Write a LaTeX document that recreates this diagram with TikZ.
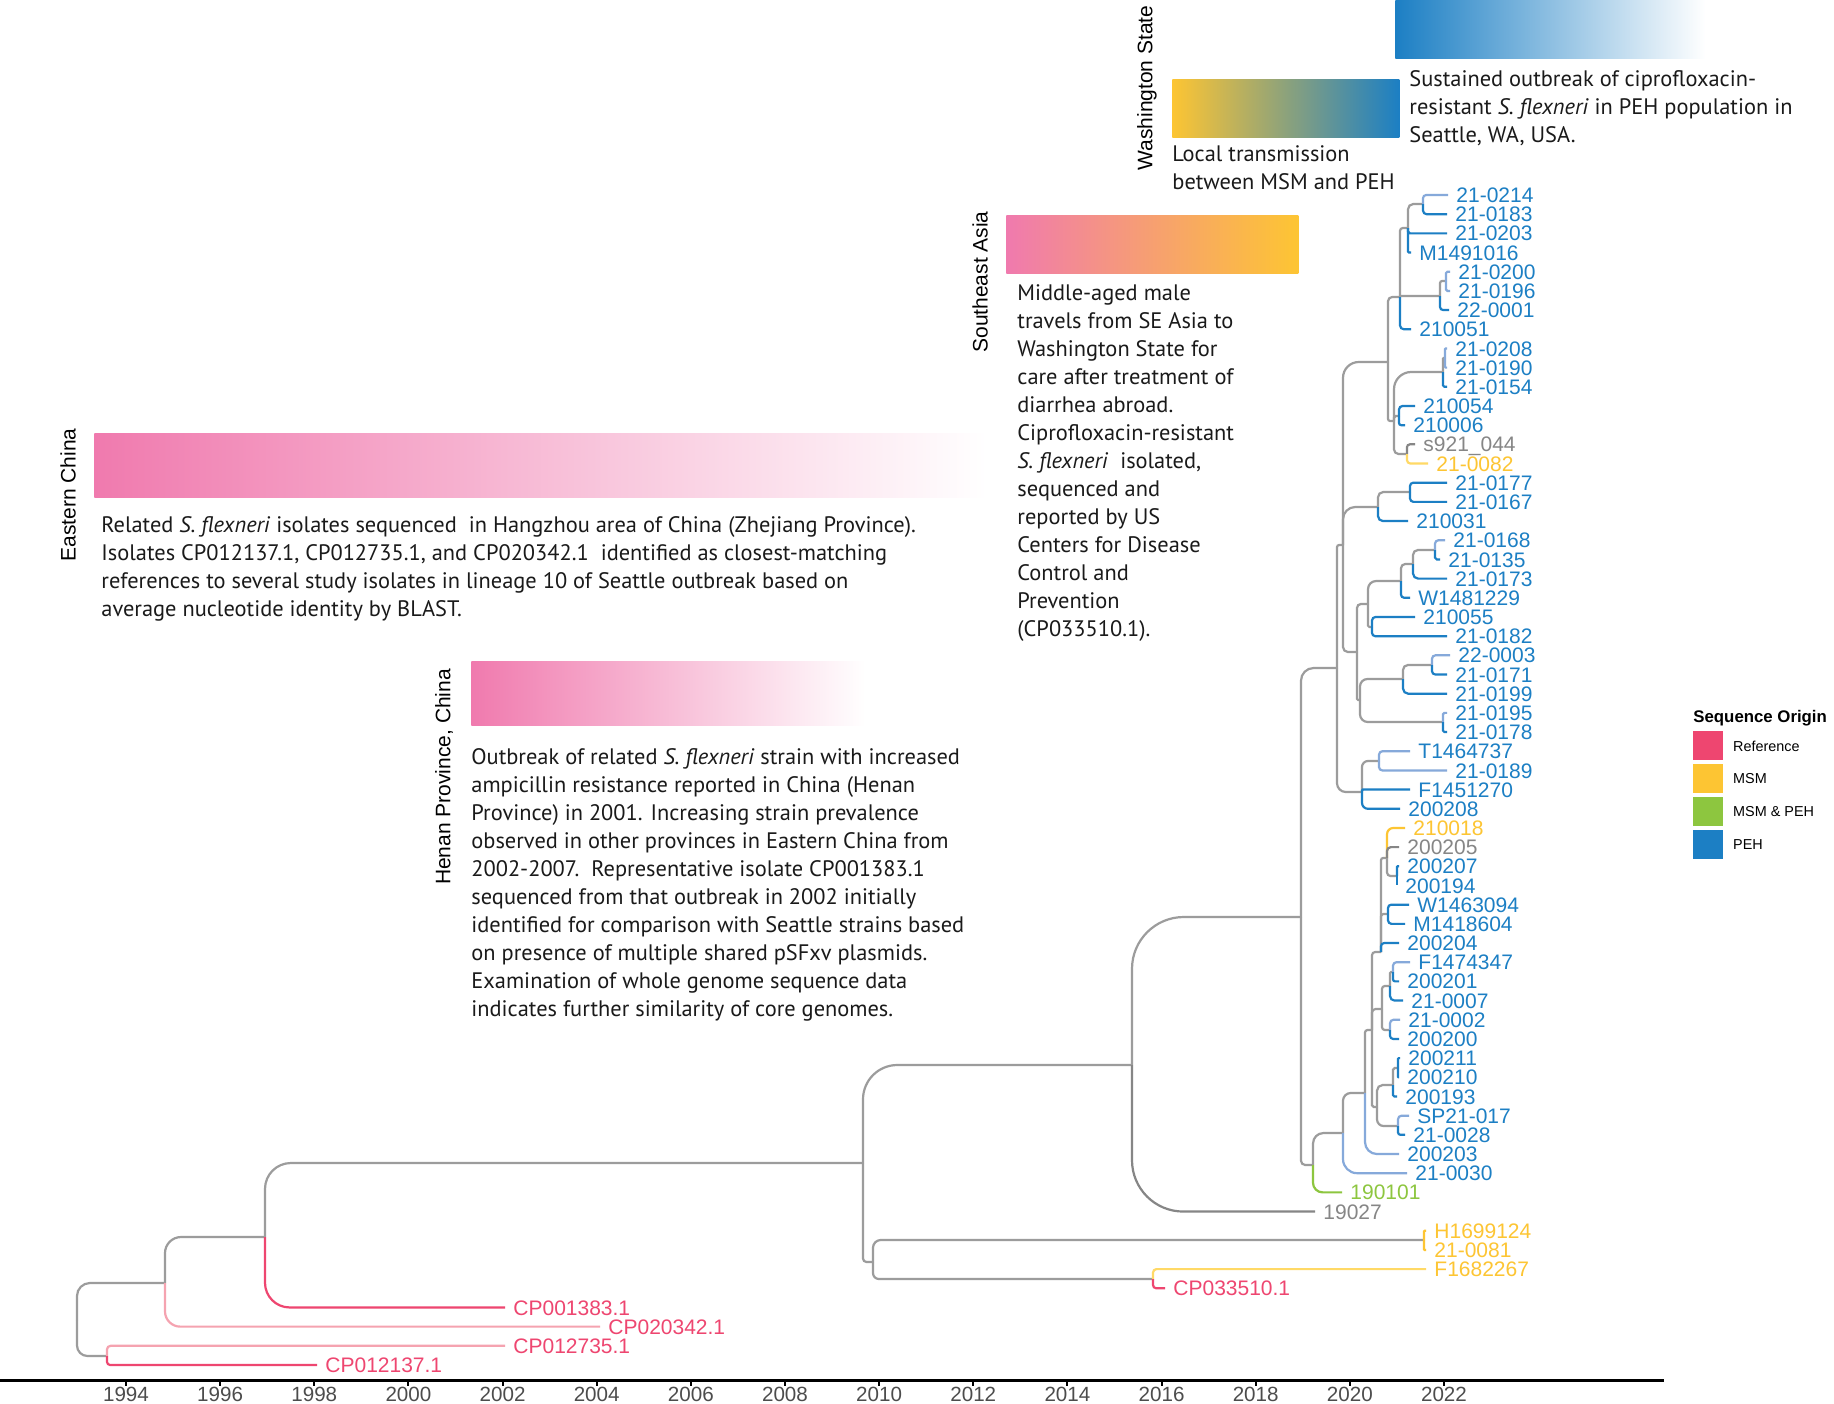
\documentclass[tikz,border=0pt]{standalone}
\usepackage{fontspec}
\setmainfont{Liberation Sans}
\newfontfamily\notefont{PT Sans}
\usetikzlibrary{calc,positioning}

\definecolor{refred}{HTML}{EE4670}
\definecolor{refpink}{HTML}{F5A3B0}
\definecolor{msmyellow}{HTML}{FDC533}
\definecolor{msmlight}{HTML}{FFD966}
\definecolor{mixgreen}{HTML}{8DC63F}
\definecolor{pehblue}{HTML}{1C7FC4}
\definecolor{pehlight}{HTML}{86A9DA}
\definecolor{treegray}{HTML}{9C9C9C}
\definecolor{tipgray}{HTML}{868686}
\definecolor{barpink}{HTML}{F07AAE}
\definecolor{notetext}{HTML}{1A1A1A}

% one branch: down/up from the parent, then across to the child
\newcommand{\br}[3]{%
  \draw[branch,draw=#3] let \p1=(#1),\p2=(#2),
    \n1={0.35*min(abs(\x2-\x1),abs(\y2-\y1))} in
    [rounded corners=\n1*1pt] (\p1) |- (\p2);}

\begin{document}
\begin{tikzpicture}[x=0.5pt,y=-0.5pt,
  branch/.style={line width=1.1pt},
  tip/.style={anchor=west,inner sep=0pt,xshift=4pt,text height=7.6pt,text depth=0pt,
    font=\fontsize{10.5}{12}\selectfont},
  note/.style={anchor=north west,align=left,inner sep=0pt,text=notetext,
    font=\notefont\fontsize{11.2}{14}\selectfont},
  place/.style={rotate=90,inner sep=0pt,font=\fontsize{10.5}{12}\selectfont},
  bar/.style={anchor=north west,inner sep=0pt,draw=none},
  yearlab/.style={anchor=north,inner sep=0pt,text=black!70,font=\fontsize{10.3}{12}\selectfont},
  legbox/.style={anchor=north west,inner sep=0pt,minimum width=15pt,minimum height=14.5pt},
  leglab/.style={inner sep=0pt,font=\fontsize{7.2}{9}\selectfont}
]
  \useasboundingbox (0,0) rectangle (1834,1403);
  \fill[white] (0,0) rectangle (1834,1403);

  % coloured bars and notes
  \node[bar,minimum width=446pt,minimum height=32pt,left color=barpink,right color=white] (eastbar) at (94,433) {};
  \node[bar,minimum width=197pt,minimum height=32pt,left color=barpink,right color=white] (henanbar) at (471,661) {};
  \node[bar,minimum width=146pt,minimum height=29pt,left color=barpink,right color=msmyellow] (seabar) at (1006,215) {};
  \node[bar,minimum width=113.5pt,minimum height=29pt,left color=msmyellow,right color=pehblue] (washbar) at (1172,79) {};
  \node[bar,minimum width=155pt,minimum height=29pt,left color=pehblue,right color=white] (seabar2) at (1395,0) {};

  \node[place] (eastlab) at (68,495) {Eastern China};
  \node[place] (henanlab) at (444,777) {Henan Province, China};
  \node[place] (sealab) at (980,282) {Southeast Asia};
  \node[place] (washlab) at (1147,88) {Washington State};

  \node[note] (eastnote) at (101,516) {Related \textit{S. flexneri} isolates sequenced\ \ in Hangzhou area of China (Zhejiang Province).\\
    Isolates CP012137.1, CP012735.1, and CP020342.1\ \ identified as closest-matching\\
    references to several study isolates in lineage 10 of Seattle outbreak based on\\
    average nucleotide identity by BLAST.};
  \node[note] (henannote) at (471,748) {Outbreak of related \textit{S. flexneri} strain with increased\\
    ampicillin resistance reported in China (Henan\\
    Province) in 2001. Increasing strain prevalence\\
    observed in other provinces in Eastern China from\\
    2002-2007.\ \ Representative isolate CP001383.1\\
    sequenced from that outbreak in 2002 initially\\
    identified for comparison with Seattle strains based\\
    on presence of multiple shared pSFxv plasmids.\\
    Examination of whole genome sequence data\\
    indicates further similarity of core genomes.};
  \node[note] (seanote) at (1017,284) {Middle-aged male\\ travels from SE Asia to\\ Washington State for\\
    care after treatment of\\ diarrhea abroad.\\ Ciprofloxacin-resistant\\ \textit{S. flexneri}\ \ isolated,\\
    sequenced and\\ reported by US\\ Centers for Disease\\ Control and\\ Prevention\\ (CP033510.1).};
  \node[note] (washnote) at (1172,145) {Local transmission\\ between MSM and PEH};
  \node[note] (seattlenote) at (1409,70) {Sustained outbreak of ciprofloxacin-\\
    resistant \textit{S. flexneri} in PEH population in\\ Seattle, WA, USA.};

  % tips
  \foreach \i/\lab/\xe/\col in {1/21-0214/1448/pehblue,2/21-0183/1447/pehblue,3/21-0203/1447/pehblue,
      4/M1491016/1411/pehblue,5/21-0200/1450/pehblue,6/21-0196/1450/pehblue,7/22-0001/1449/pehblue,
      8/210051/1411/pehblue,9/21-0208/1447/pehblue,10/21-0190/1447/pehblue,11/21-0154/1447/pehblue,
      12/210054/1415/pehblue,13/210006/1405/pehblue,14/s921\_044/1415/tipgray,15/21-0082/1428/msmyellow,
      16/21-0177/1447/pehblue,17/21-0167/1447/pehblue,18/210031/1408/pehblue,19/21-0168/1445/pehblue,
      20/21-0135/1440/pehblue,21/21-0173/1447/pehblue,22/W1481229/1410/pehblue,23/210055/1415/pehblue,
      24/21-0182/1447/pehblue,25/22-0003/1450/pehblue,26/21-0171/1447/pehblue,27/21-0199/1447/pehblue,
      28/21-0195/1447/pehblue,29/21-0178/1447/pehblue,30/T1464737/1410/pehblue,31/21-0189/1447/pehblue,
      32/F1451270/1410/pehblue,33/200208/1400/pehblue,34/210018/1405/msmyellow,35/200205/1399/tipgray,
      36/200207/1399/pehblue,37/200194/1397/pehblue,38/W1463094/1409/pehblue,39/M1418604/1405/pehblue,
      40/200204/1399/pehblue,41/F1474347/1410/pehblue,42/200201/1399/pehblue,43/21-0007/1403/pehblue,
      44/21-0002/1400/pehblue,45/200200/1399/pehblue,46/200211/1400/pehblue,47/200210/1399/pehblue,
      48/200193/1397/pehblue,49/SP21-017/1409/pehblue,50/21-0028/1405/pehblue,51/200203/1399/pehblue,
      52/21-0030/1407/pehblue,53/190101/1342/mixgreen,54/19027/1315/tipgray,55/H1699124/1426/msmyellow,
      56/21-0081/1426/msmyellow,57/F1682267/1426/msmyellow,58/CP033510.1/1165/refred,
      59/CP001383.1/505/refred,60/CP020342.1/600/refred,61/CP012735.1/505/refred,62/CP012137.1/317/refred}{
    \coordinate (t\i) at (\xe,{195+19.18*(\i-1)});
    \node[tip,text=\col] (l\i) at (t\i) {\lab};
  }

  % internal nodes
  \foreach \nd/\xx/\yy in {A/1423/204,B/1408/228,C1/1446/281,C/1440/296,D/1400/297,F1/1445/358,
      F/1443/372,G/1399/416,H/1407/454,I/1394/421,J/1388/362,K/1410/492,L/1378/507,R1/1435/550,
      R2/1413/564,R3/1401/581,R4/1372/627,R/1368/604,S1/1432/665,S2/1403/679,S3/1443/722,S/1360/700,
      N/1357/652,P/1343/545,Q1/1379/761,Q/1362/792,O/1337/668,U1a/1397/876,U1/1387/858,U2/1388/914,
      U/1381/952,V1/1393/972,V2/1390/986,V3/1390/1030,V/1382/1009,W1/1398/1068,W2/1393/1085,
      X1/1398/1126,X2/1377/1107,Y/1372/1030,Z/1365/1093,AA/1343/1133,BB/1313/1165,CC/1301/917,
      DD/1132/1065,GG/1424/1240,HH/1153/1279,FF/873/1262,EE/863/1163,II/265/1237,JJ/165/1283,
      LL/107/1356,KK/77/1320}
    \coordinate (n\nd) at (\xx,\yy);

  % branches
  \foreach \pa/\ch/\co in {nKK/nJJ/treegray,nKK/nLL/treegray,nJJ/nII/treegray,nJJ/t60/refpink,
      nII/nEE/treegray,nII/t59/refred,nLL/t61/refpink,nLL/t62/refred,nEE/nDD/treegray,nEE/nFF/treegray,
      nFF/nGG/treegray,nFF/nHH/treegray,nGG/t55/msmyellow,nGG/t56/msmyellow,nHH/t57/msmlight,
      nHH/t58/refred,nDD/nCC/treegray,nDD/t54/tipgray,nCC/nO/treegray,nCC/nBB/treegray,
      nBB/nAA/treegray,nBB/t53/mixgreen,nAA/nZ/treegray,nAA/t52/pehlight,nZ/nY/treegray,
      nZ/t51/pehlight,nY/nU/treegray,nY/nV/treegray,nY/nX2/treegray,nX2/nW2/treegray,
      nX2/nX1/treegray,nX1/t49/pehlight,nX1/t50/pehblue,nW2/nW1/treegray,nW2/t48/pehblue,
      nW1/t46/pehblue,nW1/t47/pehblue,nV/nV2/treegray,nV/nV3/treegray,nV2/nV1/treegray,
      nV2/t43/pehblue,nV1/t41/pehlight,nV1/t42/pehblue,nV3/t44/pehlight,nV3/t45/pehblue,
      nU/nU1/treegray,nU/nU2/treegray,nU/t40/pehblue,nU1/t34/msmyellow,nU1/t35/tipgray,
      nU1/nU1a/treegray,nU1a/t36/pehblue,nU1a/t37/pehblue,nU2/t38/pehblue,nU2/t39/pehblue,
      nO/nP/treegray,nO/nQ/treegray,nQ/nQ1/treegray,nQ/t32/pehblue,nQ/t33/pehblue,
      nQ1/t30/pehlight,nQ1/t31/pehlight,nP/nJ/treegray,nP/nL/treegray,nP/nN/treegray,
      nN/nR/treegray,nN/nS/treegray,nS/nS2/treegray,nS/nS3/treegray,nS2/nS1/treegray,
      nS2/t27/pehblue,nS1/t25/pehlight,nS1/t26/pehblue,nS3/t28/pehlight,nS3/t29/pehblue,
      nR/nR3/treegray,nR/nR4/treegray,nR4/t23/pehblue,nR4/t24/pehblue,nR3/nR2/treegray,
      nR3/t22/pehblue,nR2/nR1/treegray,nR2/t21/pehblue,nR1/t19/pehlight,nR1/t20/pehblue,
      nL/nK/treegray,nL/t18/pehblue,nK/t16/pehblue,nK/t17/pehblue,nJ/nD/treegray,nJ/nI/treegray,
      nI/nF/treegray,nI/nG/treegray,nI/nH/treegray,nH/t14/tipgray,nH/t15/msmlight,
      nG/t12/pehblue,nG/t13/pehblue,nF/nF1/treegray,nF/t11/pehblue,nF1/t9/pehlight,
      nF1/t10/pehlight,nD/nB/treegray,nD/nC/treegray,nD/t8/pehblue,nC/nC1/treegray,
      nC/t7/pehblue,nC1/t5/pehlight,nC1/t6/pehlight,nB/nA/treegray,nB/t3/pehblue,
      nB/t4/pehblue,nA/t1/pehlight,nA/t2/pehblue}
    {\br{\pa}{\ch}{\co}}

  % legend
  \node[anchor=west,inner sep=0pt,font=\bfseries\fontsize{8.4}{10}\selectfont] (legtitle) at (1693,718) {Sequence Origin};
  \foreach \k/\co/\lab/\yy in {1/refred/Reference/731,2/msmyellow/MSM/764,3/mixgreen/MSM \& PEH/797,4/pehblue/PEH/830}{
    \node[legbox,fill=\co] (box\k) at (1693,\yy) {};
    \node[leglab,right=4.5pt of box\k] (leg\k) {\lab};
  }

  % time axis
  \coordinate (axL) at (0,1380);
  \coordinate (axR) at (1664,1380);
  \draw[line width=1.5pt] (axL) -- (axR);
  \foreach \yr in {1994,1996,...,2022}{
    \coordinate (tk\yr) at ({126+(\yr-1994)*47.07},1380);
    \draw[line width=1pt] (tk\yr) -- ++(0,6);
    \node[yearlab] (yr\yr) at ({126+(\yr-1994)*47.07},1387) {\yr};
  }
\end{tikzpicture}
\end{document}
